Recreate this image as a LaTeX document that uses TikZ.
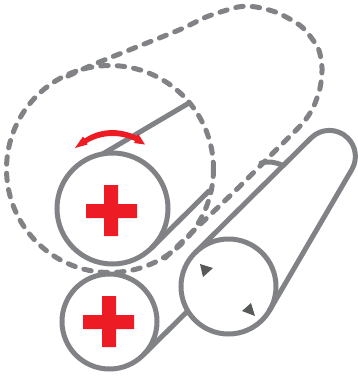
\documentclass[tikz,border=0pt]{standalone}
\definecolor{beltgrey}{RGB}{128,130,133}
\definecolor{darkmark}{RGB}{88,89,91}
\definecolor{crossred}{RGB}{237,28,36}
\tikzset{
  belt/.style={draw=beltgrey,line width=5pt},
  beltdash/.style={draw=beltgrey,line width=5pt,line cap=round,dash pattern=on 7.5pt off 9pt},
  roller/.style={circle,draw=beltgrey,line width=5pt,inner sep=0pt,outer sep=0pt},
  crossfill/.style={fill=crossred},
  markfill/.style={fill=darkmark}
}
\begin{document}
\begin{tikzpicture}[x=1pt,y=-1pt]
\useasboundingbox (0,0) rectangle (358,376);
% rollers
\node[roller,minimum size=95pt] (C) at (228.5,286.5) {};
\node[roller,minimum size=95pt] (B) at (109.5,321.5) {};
\node[roller,minimum size=111pt] (A) at (112.5,208.5) {};
% connectors
\coordinate (apex) at (189,103);
\coordinate (aend) at (209,191);
\coordinate (captl) at (311,138);
\coordinate (s1) at (261,163);
\coordinate (s2) at (282,165);
\draw[belt] (B.-45) -- (C.211);
\draw[belt] (C.135) -- (captl) arc[start angle=225,end angle=390,radius=26] -- (C.-31);
\draw[belt,line cap=round] (s1) .. controls (268,161) and (275,162) .. (s2);
\draw[belt,line cap=round] (A.100) -- (apex);
\draw[belt,line cap=round] (A.-45) -- (aend);
% ghost belt
\draw[beltdash] (110,169) circle (103.5);
\draw[beltdash] plot[smooth,tension=0.45] coordinates {(165,258) (236,190) (276,150) (302,124) (313,108) (320,88) (322,68) (318,48) (302,27) (278,13) (256,7) (238,7) (206,17) (179,30) (97,63) (68,76)};
% crosses
\fill[crossfill] (104,185) rectangle (118,236) (86,204) rectangle (137,218);
\fill[crossfill] (102,296) rectangle (116,347) (83,315) rectangle (134,329);
% direction marks
\fill[markfill] (200,264) -- (213,268) -- (203,277) -- cycle;
\fill[markfill] (255,316) -- (242,311) -- (251,303) -- cycle;
% red arrow
\fill[crossfill] (75,148) -- (83,136.5) -- (84.5,138.5) .. controls (100,128) and (120,127.5) .. (137,136) -- (138,133.5) -- (145,144.5) -- (134,143) -- (135,141) .. controls (120,134) and (102,134) .. (87,143) -- (87.5,144.5) -- cycle;
\end{tikzpicture}
\end{document}
